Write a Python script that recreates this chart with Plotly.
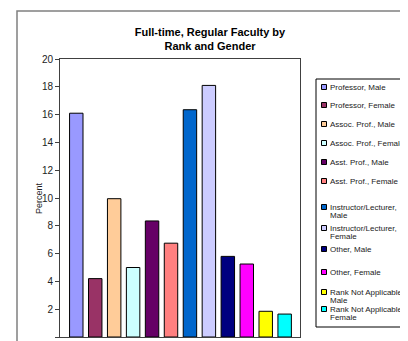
import plotly.graph_objects as go

categories = [
    "Professor, Male", "Professor, Female",
    "Assoc. Prof., Male", "Assoc. Prof., Female",
    "Asst. Prof., Male", "Asst. Prof., Female",
    "Instructor/Lecturer,<br>Male", "Instructor/Lecturer,<br>Female",
    "Other, Male", "Other, Female",
    "Rank Not Applicable,<br>Male", "Rank Not Applicable,<br>Female",
]
percent = [16.1, 4.2, 9.95, 5.0, 8.35, 6.75, 16.35, 18.1, 5.8, 5.25, 1.85, 1.65]
colors = ["#9999FF", "#993366", "#FFCC99", "#CCFFFF", "#660066", "#FF8080",
          "#0066CC", "#CCCCFF", "#000080", "#FF00FF", "#FFFF00", "#00FFFF"]
y_ticks = [0, 2, 4, 6, 8, 10, 12, 14, 16, 18, 20]

FONT = "Liberation Sans, Arial, sans-serif"

# The page body has an 8px default margin, so the figure is laid out in
# coordinates shifted by 8px from the screenshot.
OFF = 8
W, H = 400, 333
PL, PR, PT, PB = 52, 292, 51, 329  # plot area (figure px)
PW, PH = PR - PL, PB - PT


def px(sx):
    return (sx - OFF - PL) / PW


def py(sy):
    return (PB - (sy - OFF)) / PH


fig = go.Figure()
for i, (name, val, col) in enumerate(zip(categories, percent, colors)):
    fig.add_trace(go.Bar(
        x=[i], y=[val], name=name.replace("<br>", " "), width=0.71,
        marker=dict(color=col, line=dict(color="#000000", width=1)),
    ))

# ---- hand-drawn legend (Excel style: small squares, tight text) ----
legend_rows_y = [87, 105, 124, 143, 162, 181, 207, 228, 249, 272, 292, 309]
line_gap = 8.5
shapes = [
    # outer chart border
    dict(type="rect", xref="paper", yref="paper",
         x0=px(17), x1=2.0, y0=-0.5, y1=py(11),
         line=dict(color="#808080", width=1.5), layer="below"),
    # legend box
    dict(type="rect", xref="paper", yref="paper",
         x0=px(316), x1=px(440), y0=py(327), y1=py(79),
         line=dict(color="#000000", width=1), fillcolor="white", layer="below"),
]
annotations = [dict(
    text="Percent", textangle=-90, xref="paper", yref="paper",
    x=px(32), y=0.5, showarrow=False,
    font=dict(family=FONT, size=9, color="#222222"),
)]
for name, col, ry in zip(categories, colors, legend_rows_y):
    shapes.append(dict(
        type="rect", xref="paper", yref="paper",
        x0=px(321.5), x1=px(326.5), y0=py(ry + 2.5), y1=py(ry - 2.5),
        fillcolor=col, line=dict(color="#000000", width=1), layer="above"))
    for k, part in enumerate(name.split("<br>")):
        annotations.append(dict(
            text=part, xref="paper", yref="paper",
            x=px(328), y=py(ry + k * line_gap),
            xanchor="left", yanchor="middle", showarrow=False,
            font=dict(family=FONT, size=8, color="#222222"),
        ))

fig.update_layout(
    width=W, height=H,
    margin=dict(l=PL, r=W - PR, t=PT, b=H - PB, autoexpand=False),
    paper_bgcolor="white", plot_bgcolor="white",
    barmode="overlay",
    showlegend=False,
    font=dict(family=FONT, color="#000000"),
    title=dict(
        text="<b>Full-time, Regular Faculty by<br>Rank and Gender</b>",
        x=(210 - OFF) / W, xref="container", xanchor="center",
        y=1 - 28 / H, yref="container", yanchor="top",
        font=dict(family=FONT, size=11, color="#000000"),
    ),
    xaxis=dict(
        range=[-0.86, 11.81], showticklabels=False, ticks="",
        showgrid=False, zeroline=False,
        showline=True, linecolor="#404040", linewidth=1, mirror=True,
    ),
    yaxis=dict(
        range=[0, 20], tickvals=y_ticks, ticks="outside", ticklen=4,
        tickcolor="#404040", showgrid=False, zeroline=False,
        showline=True, linecolor="#404040", linewidth=1, mirror=True,
        tickfont=dict(family=FONT, size=10, color="#222222"),
    ),
    annotations=annotations,
    shapes=shapes,
)

fig.write_html("out.html")
